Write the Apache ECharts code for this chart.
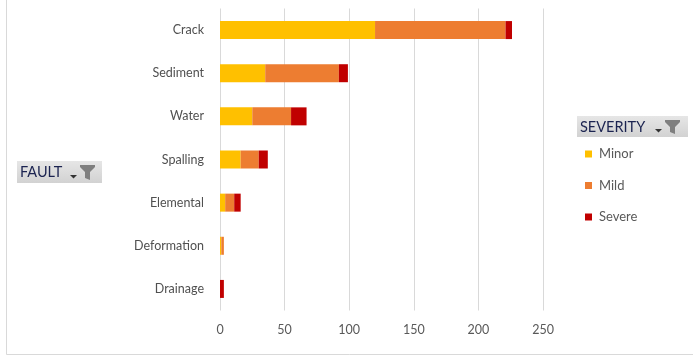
<!DOCTYPE html>
<html>
<head>
<meta charset="utf-8">
<script src="https://cdn.jsdelivr.net/npm/echarts@6/dist/echarts.min.js"></script>
<style>
  html, body { margin: 0; padding: 0; background: #fff; }
  #chart { width: 693px; height: 357px; }
</style>
</head>
<body>
<div id="chart"></div>
<script>
// Fault counts by severity
const faults = ['Crack', 'Sediment', 'Water', 'Spalling', 'Elemental', 'Deformation', 'Drainage'];
const minor  = [120, 35, 25, 16, 4, 1, 0];
const mild   = [101, 57, 30, 14, 7, 2, 0];
const severe = [5, 7, 12, 7, 5, 0, 3];
const xTicks = [0, 50, 100, 150, 200, 250];

const FONT = 'Lato, "Open Sans", sans-serif';
const colors = { Minor: '#FFC000', Mild: '#ED7D31', Severe: '#C00000' };

// Filter-button helper: grey box, caption, dropdown arrow, funnel
function filterButton(x, y, w, h, caption, arrowX) {
  const fx = arrowX + 10;
  return [
    {
      type: 'rect', shape: { x: x, y: y, width: w, height: h },
      style: {
        fill: new echarts.graphic.LinearGradient(0, 0, 0, 1, [
          { offset: 0, color: '#E6E6E6' }, { offset: 1, color: '#D2D2D2' }
        ])
      }, z: 10
    },
    {
      type: 'text', x: x + 3, y: y + h / 2 + 0.5,
      style: { text: caption, font: '14.5px ' + FONT, fill: '#1B2350', textVerticalAlign: 'middle' },
      z: 11
    },
    {
      type: 'polygon',
      shape: { points: [[arrowX, y + h - 8], [arrowX + 7, y + h - 8], [arrowX + 3.5, y + h - 4.5]] },
      style: { fill: '#333' }, z: 11
    },
    {
      type: 'polygon',
      shape: { points: [[fx, y + 4], [fx + 15, y + 4], [fx + 15, y + 6], [fx + 10, y + 11],
                        [fx + 10, y + h - 3], [fx + 5, y + h - 5], [fx + 5, y + 11], [fx, y + 6]] },
      style: { fill: '#7F7F7F' }, z: 11
    }
  ];
}

const chart = echarts.init(document.getElementById('chart'), null, { renderer: 'canvas' });

const seriesDefs = [['Minor', minor], ['Mild', mild], ['Severe', severe]];

chart.setOption({
  animation: false,
  backgroundColor: '#fff',
  textStyle: { fontFamily: FONT },
  grid: { left: 220, top: 8.5, width: 323, height: 302, containLabel: false },
  xAxis: {
    type: 'value', min: xTicks[0], max: xTicks[xTicks.length - 1], interval: 50,
    axisLine: { show: false }, axisTick: { show: false },
    axisLabel: { color: '#595959', fontSize: 12.5, fontFamily: FONT, margin: 13 },
    splitLine: { lineStyle: { color: '#D9D9D9', width: 1 } }
  },
  yAxis: {
    type: 'category', data: faults, inverse: true,
    axisLine: { show: false }, axisTick: { show: false },
    axisLabel: { color: '#505050', fontSize: 12.5, fontFamily: FONT, margin: 16 }
  },
  legend: {
    orient: 'vertical', left: 580, top: 141,
    itemWidth: 7, itemHeight: 7, itemGap: 15.5, icon: 'rect',
    textStyle: { color: '#595959', fontSize: 13, fontFamily: FONT, lineHeight: 16, padding: [0, 0, 0, 2] },
    data: ['Minor', 'Mild', 'Severe']
  },
  series: seriesDefs.map(([name, vals]) => ({
    name: name, type: 'bar', stack: 'total', data: vals,
    barWidth: 18,
    itemStyle: { color: colors[name] }
  })),
  graphic: [
    { type: 'line', shape: { x1: 6.5, y1: 0, x2: 6.5, y2: 354.5 }, style: { stroke: '#D9D9D9', lineWidth: 1 } },
    { type: 'line', shape: { x1: 6.5, y1: 354.5, x2: 693, y2: 354.5 }, style: { stroke: '#D9D9D9', lineWidth: 1 } },
    ...filterButton(577, 116, 111, 21, 'SEVERITY', 655),
    ...filterButton(17, 161, 85, 22, 'FAULT', 70)
  ]
});
</script>
</body>
</html>
